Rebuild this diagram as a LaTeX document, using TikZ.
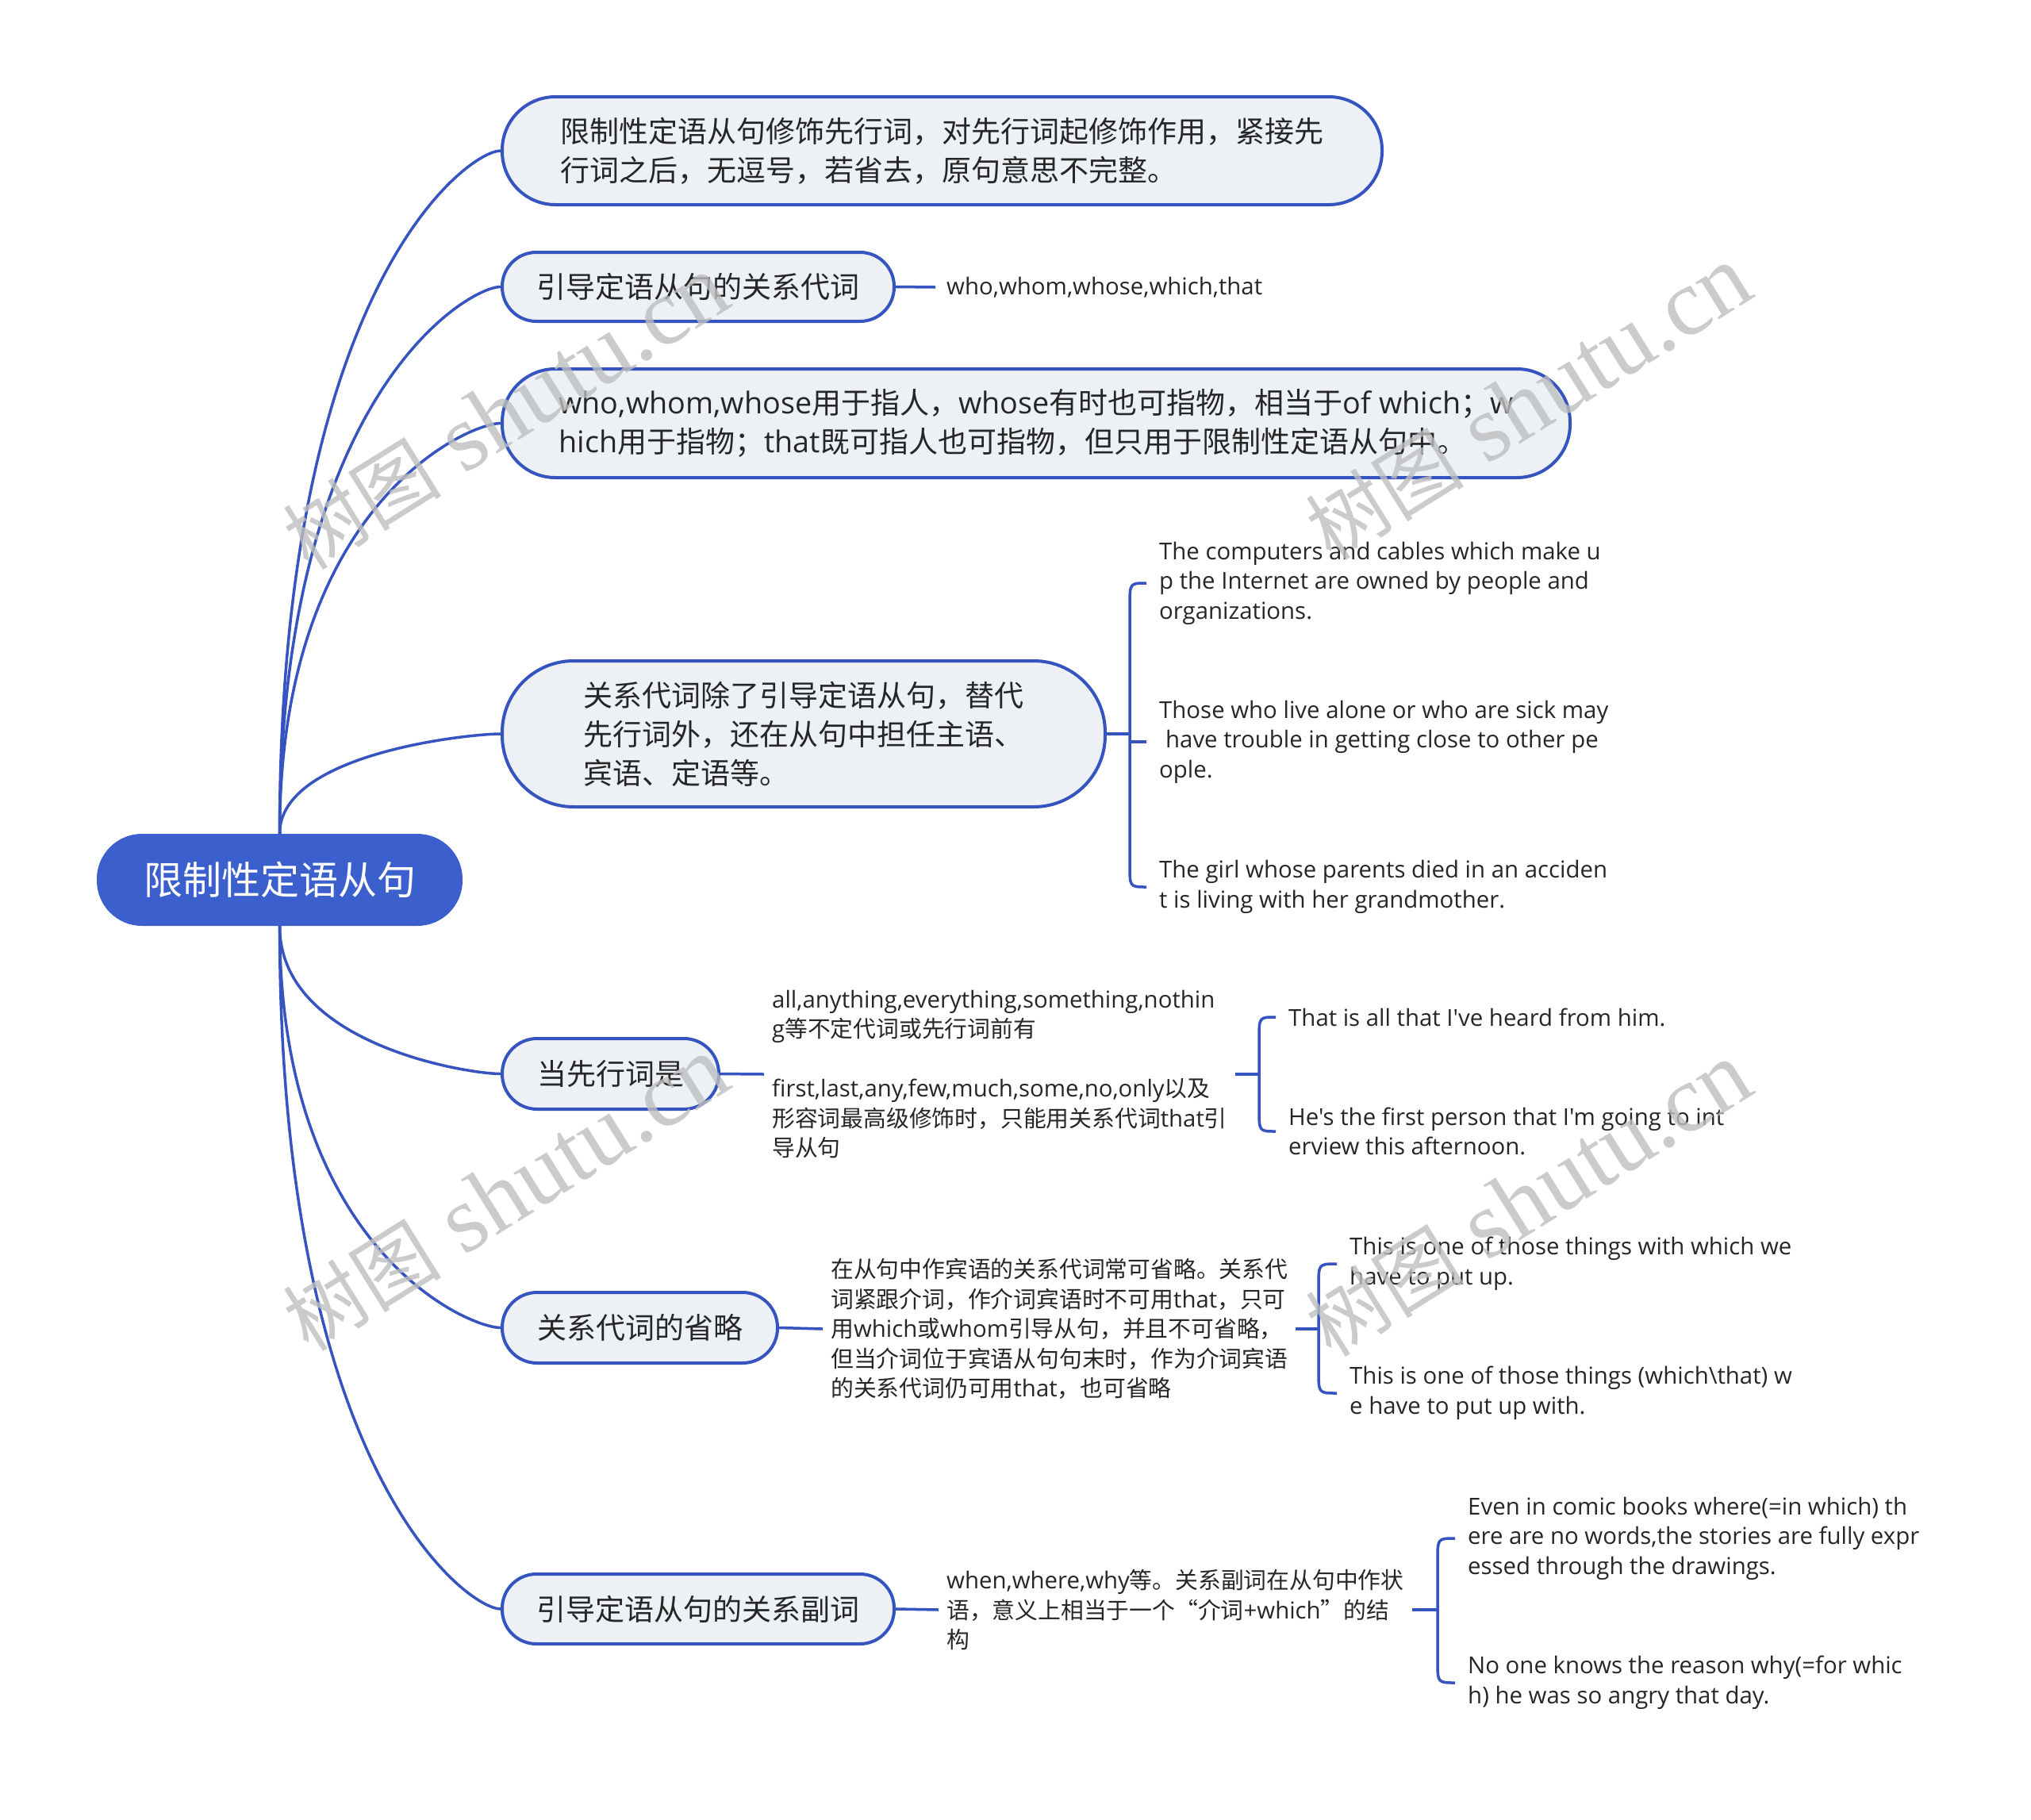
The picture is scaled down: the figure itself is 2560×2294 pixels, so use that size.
\documentclass[tikz,border=0pt]{standalone}
\usepackage{fontspec}
\setmainfont{Open Sans}[Scale=1.02,Ligatures=TeXOff]
\newfontfamily\cjkfont{Noto Sans CJK SC}
\newfontfamily\wmlatin{Liberation Serif}
\newcommand\cz[1]{{\cjkfont #1}}
\newcommand\ndfont{\fontsize{37}{49}\selectfont}
\newcommand\lffont{\fontsize{28.8}{37.5}\selectfont}
\newcommand\rtfont{\fontsize{49}{58}\selectfont}
\usetikzlibrary{calc}
\definecolor{lineblue}{RGB}{54,84,192}
\definecolor{rootblue}{RGB}{59,95,205}
\definecolor{boxfill}{RGB}{237,241,246}
\definecolor{txt}{RGB}{38,38,38}
\definecolor{wmgray}{RGB}{190,190,190}
\newcommand\branch[2]{\draw[conn] (#1) .. controls ($(#1)!0.8!(#1|-#2.west)$) and ($(#1|-#2.west)!0.85!(#2.west)$) .. (#2.west);}
\newcommand\bracepair[3]{\draw[conn] (#2.west) .. controls (#1|-#2.west) .. ($(#1|-#2.west)+(0,28)$) -- ($(#1|-#3.west)+(0,-28)$) .. controls (#1|-#3.west) .. (#3.west);}
\begin{document}
\begin{tikzpicture}[x=1pt,y=-1pt,
  conn/.style={draw=lineblue,line width=3.5pt},
  topic/.style={draw=lineblue,line width=4pt,fill=boxfill,text=txt,align=left,inner sep=0pt,font=\ndfont},
  leaf/.style={text=txt,align=left,inner xsep=16pt,inner ysep=2pt,anchor=west,font=\lffont},
  midtext/.style={text=txt,align=left,inner xsep=10pt,inner ysep=2pt,anchor=west,font=\lffont},
  wmark/.style={text=wmgray,text opacity=0.8,rotate=32,inner sep=0pt}]
\fill[white] (0,0) rectangle (2560,2294);
\useasboundingbox (0,0) rectangle (2560,2294);

% root
\node[fill=rootblue,text=white,font=\rtfont,minimum width=461pt,minimum height=116pt,rounded corners=57pt,inner sep=0pt] (root) at (352.5,1109) {\cz{限制性定语从句}};

% main topics
\node[topic,minimum width=1109pt,minimum height=136pt,rounded corners=67pt] (n1) at (1187.5,190)
  {\cz{限制性定语从句修饰先行词，对先行词起修饰作用，紧接先}\\\cz{行词之后，无逗号，若省去，原句意思不完整。}};
\node[topic,minimum width=494pt,minimum height=87pt,rounded corners=43pt] (n2) at (880,361.5)
  {\cz{引导定语从句的关系代词}};
\node[topic,minimum width=1346pt,minimum height=137pt,rounded corners=67pt] (n3) at (1306,533.5)
  {who,whom,whose\cz{用于指人，}whose\cz{有时也可指物，相当于}of which\cz{；}w\\hich\cz{用于指物；}that\cz{既可指人也可指物，但只用于限制性定语从句中。}};
\node[topic,minimum width=760pt,minimum height=184pt,rounded corners=90pt] (n4) at (1013,925)
  {\cz{关系代词除了引导定语从句，替代}\\\cz{先行词外，还在从句中担任主语、}\\\cz{宾语、定语等。}};
\node[topic,minimum width=273pt,minimum height=89pt,rounded corners=44pt] (n5) at (769.5,1353.5)
  {\cz{当先行词是}};
\node[topic,minimum width=347pt,minimum height=89pt,rounded corners=44pt] (n6) at (806.5,1673.5)
  {\cz{关系代词的省略}};
\node[topic,minimum width=494pt,minimum height=88pt,rounded corners=43pt] (n7) at (880,2028)
  {\cz{引导定语从句的关系副词}};

% branches from root
\branch{root.north}{n1}
\branch{root.north}{n2}
\branch{root.north}{n3}
\branch{root.north}{n4}
\branch{root.south}{n5}
\branch{root.south}{n6}
\branch{root.south}{n7}

% node 2 leaf
\node[leaf,inner xsep=14pt] (l2) at (1179,362) {who,whom,whose,which,that};
\draw[conn] (n2.east) -- (l2.west);

% node 4 leaves
\coordinate (b4) at (1424,925);
\node[leaf] (l4a) at (1445,735) {The computers and cables which make u\\p the Internet are owned by people and\\organizations.};
\node[leaf] (l4b) at (1445,935) {Those who live alone or who are sick may\\\hspace*{0.27em}have trouble in getting close to other pe\\ople.};
\node[leaf] (l4c) at (1445,1118) {The girl whose parents died in an acciden\\t is living with her grandmother.};
\draw[conn] (n4.east) -- (b4);
\bracepair{b4}{l4a}{l4c}
\draw[conn] (b4|-l4b.west) -- (l4b.west);

% node 5
\node[midtext] (m5) at (963,1354) {all,anything,everything,something,nothin\\g\cz{等不定代词或先行词前有}\\\mbox{}\\first,last,any,few,much,some,no,only\cz{以及}\\\cz{形容词最高级修饰时，只能用关系代词}that\cz{引}\\\cz{导从句}};
\draw[conn] (n5.east) -- (m5.west);
\coordinate (b5) at (1587,1354);
\draw[conn] (m5.east) -- (b5);
\node[leaf] (l5a) at (1608,1282) {That is all that I've heard from him.};
\node[leaf] (l5b) at (1608,1426) {He's the first person that I'm going to int\\erview this afternoon.};
\bracepair{b5}{l5a}{l5b}

% node 6
\node[midtext] (m6) at (1037,1675) {\cz{在从句中作宾语的关系代词常可省略。关系代}\\\cz{词紧跟介词，作介词宾语时不可用}that\cz{，只可}\\\cz{用}which\cz{或}whom\cz{引导从句，并且不可省略，}\\\cz{但当介词位于宾语从句句末时，作为介词宾语}\\\cz{的关系代词仍可用}that\cz{，也可省略}};
\draw[conn] (n6.east) -- (m6.west);
\coordinate (b6) at (1662,1675);
\draw[conn] (m6.east) -- (b6);
\node[leaf] (l6a) at (1685,1593) {This is one of those things with which we\\have to put up.};
\node[leaf] (l6b) at (1685,1756) {This is one of those things (which\textbackslash that) w\\e have to put up with.};
\bracepair{b6}{l6a}{l6b}

% node 7
\node[midtext] (m7) at (1183,2029) {when,where,why\cz{等。关系副词在从句中作状}\\\cz{语，意义上相当于一个“介词}+which\cz{”的结}\\\cz{构}};
\draw[conn] (n7.east) -- (m7.west);
\coordinate (b7) at (1812,2029);
\draw[conn] (m7.east) -- (b7);
\node[leaf] (l7a) at (1834,1939) {Even in comic books where(=in which) th\\ere are no words,the stories are fully expr\\essed through the drawings.};
\node[leaf] (l7b) at (1834,2121) {No one knows the reason why(=for whic\\h) he was so angry that day.};
\bracepair{b7}{l7a}{l7b}

% watermarks
\node[wmark] (wm1) at (638,520) {{\cjkfont\fontsize{100}{110}\selectfont 树图}{\wmlatin\fontsize{120}{130}\selectfont{} shutu.cn}};
\node[wmark] (wm2) at (1927,508) {{\cjkfont\fontsize{100}{110}\selectfont 树图}{\wmlatin\fontsize{120}{130}\selectfont{} shutu.cn}};
\node[wmark] (wm3) at (638,1505) {{\cjkfont\fontsize{100}{110}\selectfont 树图}{\wmlatin\fontsize{120}{130}\selectfont{} shutu.cn}};
\node[wmark] (wm4) at (1927,1512) {{\cjkfont\fontsize{100}{110}\selectfont 树图}{\wmlatin\fontsize{120}{130}\selectfont{} shutu.cn}};
\end{tikzpicture}
\end{document}
